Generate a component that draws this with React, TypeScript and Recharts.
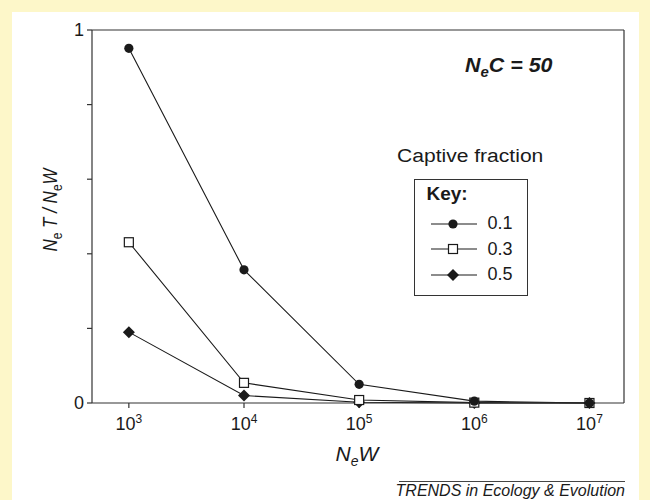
import { LineChart, Line, XAxis, YAxis, ReferenceLine, Legend } from 'recharts';

const exponents = [3, 4, 5, 6, 7];
const frac01 = [0.951, 0.357, 0.05, 0.005, 0.0];
const frac03 = [0.431, 0.054, 0.008, 0.001, 0.0];
const frac05 = [0.19, 0.02, 0.002, 0.0, 0.0];
const seriesNames = ['0.1', '0.3', '0.5'];
const yTicks = [0, 0.2, 0.4, 0.6, 0.8, 1];

const data = exponents.map((e, i) => ({
  exp: e,
  f01: frac01[i],
  f03: frac03[i],
  f05: frac05[i],
}));

const FONT = '"Liberation Sans", Arial, Helvetica, sans-serif';
const INK = '#1a1a1a';

const circleDot = (p: any) => (
  <circle key={`c${p.index}`} cx={p.cx} cy={p.cy} r={4.6} fill={INK} />
);
const squareDot = (p: any) => (
  <rect key={`s${p.index}`} x={p.cx - 4.5} y={p.cy - 4.5} width={9} height={9} fill="#fff" stroke={INK} strokeWidth={1.2} />
);
const diamondDot = (p: any) => (
  <polygon
    key={`d${p.index}`}
    points={`${p.cx},${p.cy - 6} ${p.cx + 6},${p.cy} ${p.cx},${p.cy + 6} ${p.cx - 6},${p.cy}`}
    fill={INK}
  />
);

const markers: Record<string, (cx: number, cy: number) => any> = {
  f01: (cx, cy) => <circle cx={cx} cy={cy} r={4.6} fill={INK} />,
  f03: (cx, cy) => <rect x={cx - 4.5} y={cy - 4.5} width={9} height={9} fill="#fff" stroke={INK} strokeWidth={1.2} />,
  f05: (cx, cy) => <polygon points={`${cx},${cy - 6} ${cx + 6},${cy} ${cx},${cy + 6} ${cx - 6},${cy}`} fill={INK} />,
};

const XTick = ({ x, y, payload }: any) => (
  <text x={x} y={y + 20} textAnchor="middle" fontSize={18} fill={INK} fontFamily={FONT}>
    10
    <tspan dy={-7} fontSize={12}>{payload.value}</tspan>
  </text>
);

const KeyBox = ({ payload }: any) => (
  <div
    style={{
      border: '1.5px solid #333',
      width: 114,
      height: 117,
      boxSizing: 'border-box',
      padding: '3px 0 0 11.5px',
      fontFamily: FONT,
      color: INK,
      background: '#fff',
    }}
  >
    <div style={{ fontWeight: 'bold', fontSize: 19, marginBottom: 6 }}>Key:</div>
    {(payload || []).map((entry: any) => (
      <div key={entry.dataKey} style={{ display: 'flex', alignItems: 'center', height: 25.5 }}>
        <svg width={50} height={16}>
          <line x1={4} y1={8} x2={50} y2={8} stroke={INK} strokeWidth={1.2} />
          {markers[entry.dataKey](26, 8)}
        </svg>
        <span style={{ fontSize: 18, marginLeft: 11 }}>{entry.value}</span>
      </div>
    ))}
  </div>
);

export default function App() {
  return (
    <div style={{ position: 'absolute', left: 0, top: 0, width: 650, height: 500, background: '#fdf7c9', fontFamily: FONT }}>
      <div style={{ position: 'absolute', left: 12, top: 12, width: 627, height: 488, background: '#fff' }} />
      <div style={{ position: 'absolute', left: 0, top: 0 }}>
        <LineChart width={650} height={500} data={data} margin={{ top: 30, right: 26, bottom: 67, left: 52 }}>
          <XAxis
            dataKey="exp"
            type="number"
            domain={[2.68, 7.3]}
            ticks={exponents}
            tick={<XTick />}
            tickSize={5}
            height={30}
            stroke="#333"
            strokeWidth={1.2}
            allowDataOverflow
            label={{
              content: ({ viewBox }: any) => (
                <text x={viewBox.x + viewBox.width / 2 - 1} y={461} textAnchor="middle" fontSize={21} fontStyle="italic" fill={INK} fontFamily={FONT}>
                  N<tspan dy={5} fontSize={14}>e</tspan>
                  <tspan dy={-5}>W</tspan>
                </text>
              ),
            }}
          />
          <YAxis
            type="number"
            domain={[0, 1]}
            ticks={yTicks}
            tickFormatter={(v: number) => (v === 0 || v === 1 ? String(v) : '')}
            tick={{ fill: INK, fontSize: 18, fontFamily: FONT }}
            tickSize={5}
            tickMargin={3}
            width={40}
            stroke="#333"
            strokeWidth={1.2}
            label={{
              content: () => (
                <text
                  x={0}
                  y={0}
                  transform="translate(57 210) rotate(-90) scale(1 1.2)"
                  textAnchor="middle"
                  fontSize={17}
                  fill={INK}
                  fontFamily={FONT}
                >
                  <tspan fontStyle="italic">N</tspan>
                  <tspan dy={4} fontSize={12}>e</tspan>
                  <tspan dy={-4} fontStyle="italic"> T / N</tspan>
                  <tspan dy={4} fontSize={12}>e</tspan>
                  <tspan dy={-4} fontStyle="italic">W</tspan>
                </text>
              ),
            }}
          />
          <ReferenceLine y={1} stroke="#333" strokeWidth={1.2} />
          <ReferenceLine x={7.3} stroke="#333" strokeWidth={1.2} />
          <Legend
            layout="horizontal"
            verticalAlign="middle"
            align="center"
            wrapperStyle={{ left: 414, top: 179, width: 114 }}
            content={<KeyBox />}
          />
          <Line name={seriesNames[2]} dataKey="f05" stroke={INK} strokeWidth={1.1} dot={diamondDot} isAnimationActive={false} />
          <Line name={seriesNames[1]} dataKey="f03" stroke={INK} strokeWidth={1.1} dot={squareDot} isAnimationActive={false} />
          <Line name={seriesNames[0]} dataKey="f01" stroke={INK} strokeWidth={1.1} dot={circleDot} isAnimationActive={false} />
        </LineChart>
      </div>
      <div style={{ position: 'absolute', left: 465, top: 54, fontSize: 20, fontWeight: 'bold', fontStyle: 'italic', color: INK, transform: 'scaleX(1.07)', transformOrigin: 'left top', whiteSpace: 'nowrap' }}>
        N<sub style={{ fontSize: 14 }}>e</sub>C = 50
      </div>
      <div style={{ position: 'absolute', left: 397, top: 146, fontSize: 18, color: INK, transform: 'scaleX(1.17)', transformOrigin: 'left top', whiteSpace: 'nowrap' }}>
        Captive fraction
      </div>
      <div style={{ position: 'absolute', left: 399, top: 481, width: 226, borderTop: '1.2px solid #444' }} />
      <div style={{ position: 'absolute', right: 25, top: 482, fontSize: 16, fontStyle: 'italic', color: INK, whiteSpace: 'nowrap' }}>
        TRENDS in Ecology &amp; Evolution
      </div>
    </div>
  );
}
